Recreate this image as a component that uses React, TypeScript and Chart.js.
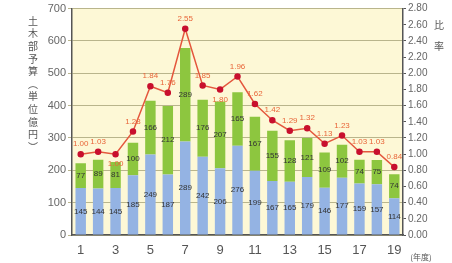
import React, { useEffect, useRef } from "react";
import { Chart, registerables } from "chart.js";

Chart.register(...registerables);

const years = ["1","2","3","4","5","6","7","8","9","10","11","12","13","14","15","16","17","18","19"];
const blueValues = [145,144,145,185,249,187,289,242,206,276,199,167,165,179,146,177,159,157,114];
const greenValues = [77,89,81,100,166,212,289,176,207,165,167,155,128,121,109,102,74,75,74];
const ratioValues = [1.00,1.03,1.00,1.28,1.84,1.76,2.55,1.85,1.80,1.96,1.62,1.42,1.29,1.32,1.13,1.23,1.03,1.03,0.84];
const leftTitleChars = ["土","木","部","予","算","︵","単","位","億","円","︶"];
const rightTitleChars = ["比","率"];
const xUnit = "(年度)";
const ratioLabelBelow = [2, 8];

const FONT = "'Liberation Sans', Arial, sans-serif";
const CJK = "'Noto Sans CJK JP', sans-serif";

const decorPlugin = {
  id: "decor",
  beforeDraw(chart: any) {
    const { ctx, chartArea } = chart;
    ctx.save();
    ctx.fillStyle = "#fdf8d6";
    ctx.fillRect(chartArea.left, chartArea.top, chartArea.right - chartArea.left, chartArea.bottom - chartArea.top);
    ctx.restore();
  },
  afterDraw(chart: any) {
    const { ctx, chartArea } = chart;
    ctx.save();
    ctx.fillStyle = "#555";
    ctx.font = `10px ${CJK}`;
    ctx.textAlign = "center";
    ctx.textBaseline = "middle";
    leftTitleChars.forEach((c, i) => ctx.fillText(c, 33, 21 + i * 12.6));
    rightTitleChars.forEach((c, i) => ctx.fillText(c, 439, 25 + i * 21));
    ctx.font = `8px ${CJK}`;
    ctx.fillText(xUnit, chartArea.right + 18, 257);
    ctx.restore();
  },
  afterDatasetsDraw(chart: any) {
    const { ctx } = chart;
    ctx.save();
    ctx.textAlign = "center";
    ctx.textBaseline = "middle";
    ctx.font = `8px ${FONT}`;
    ctx.fillStyle = "#333";
    [0, 1].forEach((di) => {
      const meta = chart.getDatasetMeta(di);
      meta.data.forEach((el: any, i: number) => {
        const v = chart.data.datasets[di].data[i];
        const mid = (el.y + el.base) / 2;
        ctx.fillText(String(v), el.x, mid);
      });
    });
    const lm = chart.getDatasetMeta(2);
    ctx.fillStyle = "#e8663a";
    lm.data.forEach((el: any, i: number) => {
      const v = ratioValues[i];
      const below = ratioLabelBelow.includes(i);
      ctx.fillText(v.toFixed(2), el.x, el.y + (below ? 10 : -10));
    });
    ctx.restore();
  },
};

export default function App() {
  const ref = useRef<HTMLCanvasElement>(null);
  useEffect(() => {
    if (!ref.current) return;
    const chart = new Chart(ref.current, {
      type: "bar",
      data: {
        labels: years,
        datasets: [
          {
            type: "bar",
            data: blueValues,
            backgroundColor: "#94b3e3",
            yAxisID: "y",
            stack: "s",
            order: 2,
            barPercentage: 0.6,
            categoryPercentage: 1,
          },
          {
            type: "bar",
            data: greenValues,
            backgroundColor: "#8dc63f",
            yAxisID: "y",
            stack: "s",
            order: 2,
            barPercentage: 0.6,
            categoryPercentage: 1,
          },
          {
            type: "line",
            data: ratioValues,
            yAxisID: "y1",
            borderColor: "#e4573d",
            borderWidth: 1.5,
            pointBackgroundColor: "#c8102e",
            pointBorderColor: "#c8102e",
            pointRadius: 2.5,
            order: 0,
          } as any,
        ],
      },
      options: {
        responsive: false,
        animation: false,
        layout: { padding: { top: 7, left: 0, right: 0, bottom: 0 } },
        plugins: { legend: { display: false }, tooltip: { enabled: false } },
        scales: {
          x: {
            stacked: true,
            grid: { display: false },
            border: { color: "#555", width: 1.5 },
            ticks: {
              autoSkip: false,
              maxRotation: 0,
              color: "#555",
              font: { size: 13, family: FONT },
              padding: 0,
              callback: (_v: any, i: number) => (i % 2 === 0 ? years[i] : ""),
            },
            afterFit: (s: any) => { s.height = 28; },
          },
          y: {
            stacked: true,
            min: 0,
            max: 700,
            grid: { color: "#b9b58c", tickLength: 4 },
            border: { color: "#555", width: 1.5 },
            ticks: { stepSize: 100, color: "#666", font: { size: 11, family: FONT }, padding: 2 },
            afterFit: (s: any) => { s.width = 72; },
          },
          y1: {
            position: "right",
            min: 0,
            max: 2.8,
            grid: { drawOnChartArea: false, tickLength: 3, color: "#555" },
            border: { color: "#555", width: 1.5 },
            ticks: {
              stepSize: 0.2,
              color: "#666",
              font: { size: 10, family: FONT },
              padding: 2,
              callback: (v: any) => Number(v).toFixed(2),
            },
            afterFit: (s: any) => { s.width = 49; },
          },
        },
      },
      plugins: [decorPlugin],
    });
    return () => chart.destroy();
  }, []);
  return (
    <div style={{ position: "absolute", left: 0, top: 0, width: 452, height: 263, background: "#fff" }}>
      <canvas ref={ref} width={452} height={263} />
    </div>
  );
}
